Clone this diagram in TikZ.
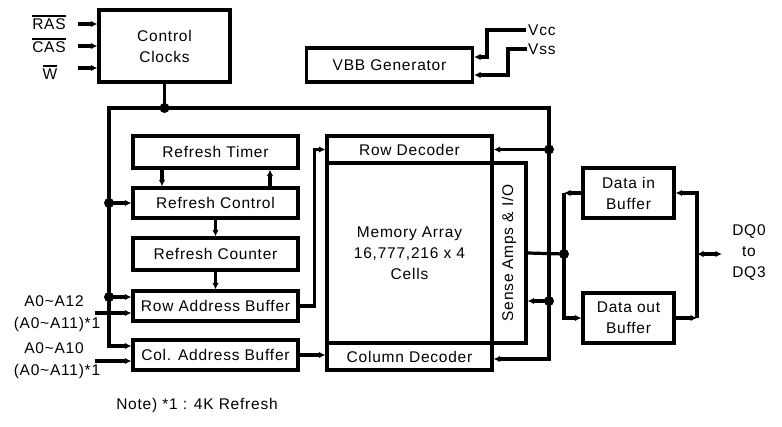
\documentclass[tikz,border=0pt]{standalone}
\usepackage{fontspec}
\setmainfont{Liberation Sans}[LetterSpace=5]
\usetikzlibrary{arrows.meta,calc}
\newcommand{\fsz}{\fontsize{15.5}{21}\selectfont}
\newcommand{\ovl}[1]{\leavevmode\vbox{\hrule height 1.8pt\kern1.8pt\hbox{#1}}}
\begin{document}
\begin{tikzpicture}[x=1pt,y=-1pt,
  box/.style={draw,line width=3.2pt,inner sep=0pt,font=\fsz,align=center},
  ln/.style={line width=3.2pt},
  arr/.style={ln,-{Latex[length=6.5pt,width=6.5pt]}},
  darr/.style={ln,{Latex[length=6.5pt,width=6.5pt]}-{Latex[length=6.5pt,width=6.5pt]}},
  dot/.style={circle,fill,inner sep=0pt,minimum size=10pt},
  lbl/.style={font=\fsz,inner sep=0pt,align=center}]
\fill[white] (0,0) rectangle (782,426);
\useasboundingbox (0,0) rectangle (782,426);

% boxes
\node[box,minimum width=131pt,minimum height=72pt] (cc) at (164.5,46) {Control\\Clocks};
\node[box,minimum width=166pt,minimum height=34pt] (vbb) at (389.5,65) {VBB Generator};
\node[box,minimum width=165pt,minimum height=32pt] (rt) at (215.5,152) {Refresh Timer};
\node[box,minimum width=165pt,minimum height=30pt] (rc) at (215.5,203) {Refresh Control};
\node[box,minimum width=165pt,minimum height=32pt] (rcn) at (215.5,254) {Refresh Counter};
\node[box,minimum width=165pt,minimum height=30pt] (rab) at (215.5,306) {Row Address Buffer};
\node[box,minimum width=165pt,minimum height=30pt] (cab) at (215.5,355) {Col. Address Buffer};
\node[box,minimum width=165pt,minimum height=180pt] (ma) at (409.5,253) {Memory Array\\16,777,216 x 4\\Cells};
\node[box,minimum width=165pt,minimum height=27pt] (rd) at (409.5,149.5) {Row Decoder};
\node[box,minimum width=165pt,minimum height=27pt] (cd) at (409.5,356.5) {Column Decoder};
\node[box,minimum width=34pt,minimum height=180pt] (sa) at (509,253) {};
\node[lbl,rotate=90] (satext) at (sa.center) {Sense Amps \& I/O};
\node[box,minimum width=91pt,minimum height=50pt] (dib) at (628.5,193) {Data in\\Buffer};
\node[box,minimum width=91pt,minimum height=50pt] (dob) at (628.5,318) {Data out\\Buffer};

% labels
\node[lbl] (ras) at (49,22) {\ovl{RAS}};
\node[lbl] (cas) at (49,45) {\ovl{CAS}};
\node[lbl] (w) at (50,72) {\ovl{W}};
\coordinate (rasS) at (78,24);
\coordinate (casS) at (78,46);
\coordinate (wS) at (78,68);
\draw[arr] (rasS) -- (rasS -| cc.west);
\draw[arr] (casS) -- (casS -| cc.west);
\draw[arr] (wS) -- (wS -| cc.west);

% Vcc / Vss
\coordinate (vccE) at (526,30);
\coordinate (vssE) at (527,49);
\draw[arr] (vccE) -- ++(-39,0) |- ([yshift=8pt]vbb.east);
\draw[arr] (vssE) -- ++(-19,0) |- ([yshift=-10pt]vbb.east);
\node[lbl,anchor=west] (vcc) at ([xshift=2pt]vccE) {Vcc};
\node[lbl,anchor=west] (vss) at ([xshift=1pt]vssE) {Vss};

% main bus
\coordinate (busTL) at (109,108);
\coordinate (busTR) at (549,108);
\coordinate (lb) at (109,346);
\coordinate (rb) at (549,359);
\draw[darr] (lb -| cab.west) -- (lb) -- (busTL) -- (busTR) -- (rb) -- (rb -| cd.east);
\draw[ln] (cc.south) -- (cc.south |- busTL);
\node[dot] (d1) at (cc.south |- busTL) {};

% left bus taps
\coordinate (rabj) at (109,297);
\draw[arr] (busTL |- rc.west) -- (rc.west);
\node[dot] (d2) at (busTL |- rc.west) {};
\draw[arr] (rabj) -- (rabj -| rab.west);
\node[dot] (d3) at (rabj) {};

% right bus taps
\coordinate (saj) at (549,301);
\draw[arr] (busTR |- rd.east) -- (rd.east);
\node[dot] (d4) at (busTR |- rd.east) {};
\draw[arr] (saj) -- (saj -| sa.east);
\node[dot] (d5) at (saj) {};

% refresh chain
\draw[arr] ([xshift=-53.5pt]rt.south) -- ([xshift=-53.5pt]rc.north);
\draw[arr] ([xshift=54.5pt]rc.north) -- ([xshift=54.5pt]rt.south);
\draw[arr] (rc.south) -- (rcn.north);
\draw[arr] (rcn.south) -- (rab.north);

% address buffers to decoders
\draw[arr] (rab.east) -- ++(15,0) |- (rd.west);
\draw[arr] (cab.east) -- (cab.east -| cd.west);

% address inputs
\coordinate (a12) at (95,313);
\coordinate (a10) at (95,361);
\draw[arr] (a12) -- (a12 -| rab.west);
\draw[arr] (a10) -- (a10 -| cab.west);
\node[lbl] (a12t) at (54,301) {A0\textasciitilde A12};
\node[lbl] (a11t) at (57,324) {(A0\textasciitilde A11)*1};
\node[lbl] (a10t) at (54,348) {A0\textasciitilde A10};
\node[lbl] (a11u) at (57,371) {(A0\textasciitilde A11)*1};

% data path
\coordinate (jn) at (564,254);
\draw[ln] (sa.east) -- (jn);
\draw[arr] (dib.west) -- (dib.west -| jn);
\draw[arr] (dib.west -| jn) -- (jn |- dob.west) -- (dob.west);
\node[dot] (d6) at (jn) {};

\coordinate (dqJ) at (697,254);
\coordinate (dqE) at (722,254);
\draw[arr] (dob.east) -- (dob.east -| dqJ);
\draw[arr] (dqJ |- dob.east) -- (dqJ |- dib.east) -- (dib.east);
\draw[darr] (dqJ) -- (dqE);
\node[lbl] (dq) at (749,253) {DQ0\\to\\DQ3};

\node[lbl] (note) at (197,405) {Note) *1 : 4K Refresh};
\end{tikzpicture}
\end{document}
